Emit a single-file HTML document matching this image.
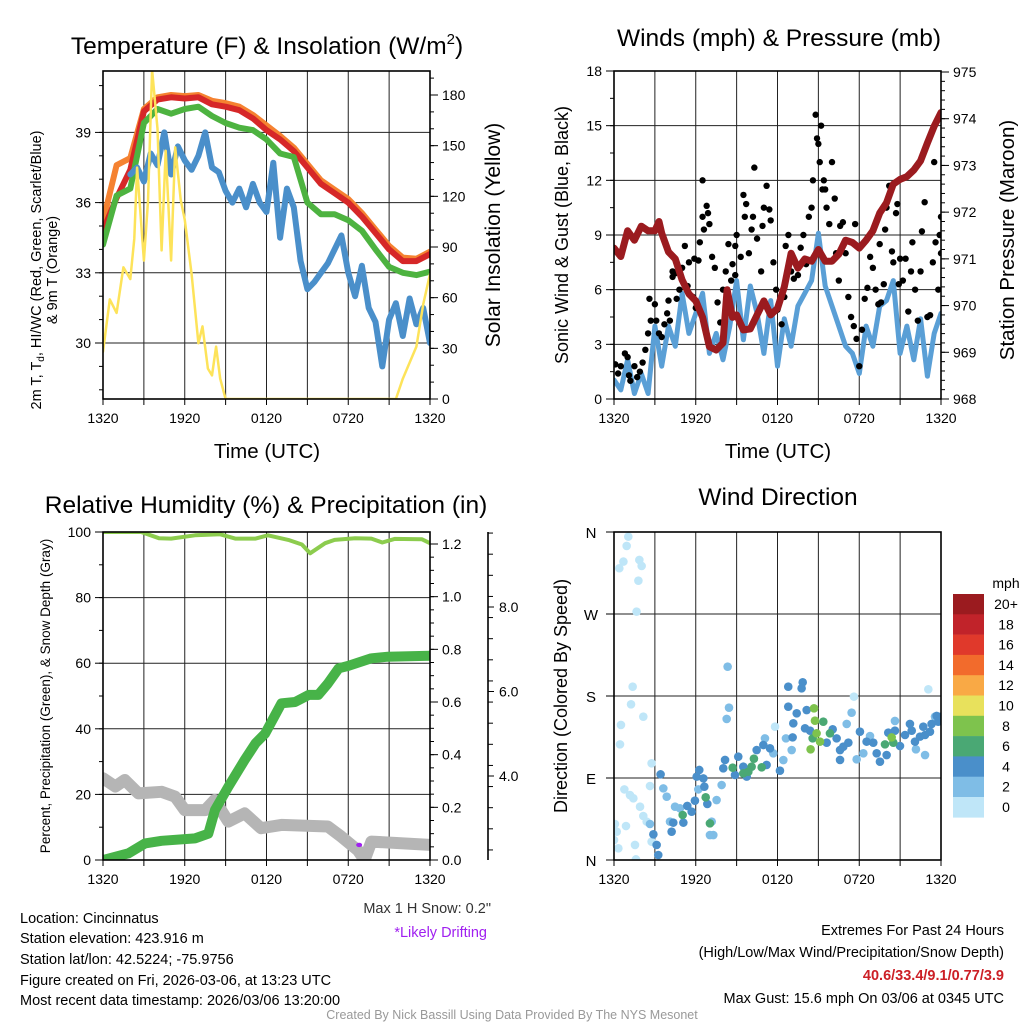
<!DOCTYPE html>
<html><head><meta charset="utf-8"><style>
html,body{margin:0;padding:0;background:#fff;}
svg{display:block;font-family:"Liberation Sans",Arial,sans-serif;}
</style></head><body>
<svg id="c" width="1024" height="1024" viewBox="0 0 1024 1024" xmlns="http://www.w3.org/2000/svg">
<rect x="0" y="0" width="1024" height="1024" fill="#fff"/>
<g font-size="24.5" text-anchor="middle" fill="#000">
<text x="267" y="54">Temperature (F) &amp; Insolation (W/m<tspan font-size="15" dy="-10">2</tspan><tspan dy="10">)</tspan></text>
<text x="779" y="46">Winds (mph) &amp; Pressure (mb)</text>
<text x="266" y="513">Relative Humidity (%) &amp; Precipitation (in)</text>
<text x="778" y="505">Wind Direction</text>
</g>
<g font-size="20.5" text-anchor="middle">
<text x="267" y="458">Time (UTC)</text>
<text x="778" y="458">Time (UTC)</text>
<text transform="translate(500,235) rotate(-90)" font-size="21">Solar Insolation (Yellow)</text>
<text transform="translate(568,235) rotate(-90)" font-size="18">Sonic Wind &amp; Gust (Blue, Black)</text>
<text transform="translate(1014,240) rotate(-90)">Station Pressure (Maroon)</text>
<text transform="translate(567,696) rotate(-90)" font-size="18">Direction (Colored By Speed)</text>
</g>
<g font-size="14.5" text-anchor="middle">
<text transform="translate(41,270) rotate(-90)">2m T, T<tspan font-size="10" dy="3">d</tspan><tspan dy="-3">, HI/WC (Red, Green, Scarlet/Blue)</tspan></text>
<text transform="translate(57,270) rotate(-90)">&amp; 9m T (Orange)</text>
<text transform="translate(50,696) rotate(-90)" font-size="13.5">Percent, Precipitation (Green), &amp; Snow Depth (Gray)</text>
</g>
<g font-size="14.5" fill="#000">
<text x="20" y="923">Location: Cincinnatus</text>
<text x="20" y="943">Station elevation: 423.916 m</text>
<text x="20" y="964">Station lat/lon: 42.5224; -75.9756</text>
<text x="20" y="985">Figure created on Fri, 2026-03-06, at 13:23 UTC</text>
<text x="20" y="1005">Most recent data timestamp: 2026/03/06 13:20:00</text>
<text x="491" y="913" text-anchor="end" fill="#333">Max 1 H Snow: 0.2"</text>
<text x="487" y="937" text-anchor="end" fill="#a020f0">*Likely Drifting</text>
<text x="1004" y="935" text-anchor="end">Extremes For Past 24 Hours</text>
<text x="1004" y="957" text-anchor="end">(High/Low/Max Wind/Precipitation/Snow Depth)</text>
<text x="1004" y="980" text-anchor="end" fill="#cc1f26" font-weight="bold">40.6/33.4/9.1/0.77/3.9</text>
<text x="1004" y="1003" text-anchor="end">Max Gust: 15.6 mph On 03/06 at 0345 UTC</text>
<text x="512" y="1019" text-anchor="middle" font-size="12.5" fill="#999">Created By Nick Bassill Using Data Provided By The NYS Mesonet</text>
</g>
</svg>
<script>
// ---------- data: panel 1 temperature (F), hourly ----------
const tempHours = [0,1,2,3,4,5,6,7,8,9,10,11,12,13,14,15,16,17,18,19,20,21,22,23,24];
const redT = [34.8,36.2,37.4,39.9,40.4,40.5,40.45,40.5,40.2,40.1,39.95,39.6,39.1,38.7,38.2,37.5,36.8,36.4,36.0,35.4,34.7,34.0,33.5,33.5,33.8];
const orangeT = [35.2,37.6,37.9,40.0,40.5,40.6,40.55,40.6,40.35,40.25,40.1,39.75,39.3,38.85,38.35,37.65,36.95,36.55,36.15,35.55,34.85,34.15,33.65,33.6,33.9];
const greenT = [34.2,36.3,36.6,39.4,40.0,39.8,40.0,40.1,39.7,39.4,39.2,39.1,38.7,38.1,37.95,36.0,35.5,35.5,35.25,34.8,34.0,33.25,33.0,32.9,33.05];
const blueHours = [2,2.5,3,3.5,4,4.5,5,5.5,6,6.5,7,7.5,8,8.5,9,9.5,10,10.5,11,11.5,12,12.5,13,13.5,14,14.5,15,15.5,16,16.5,17,17.5,18,18.5,19,19.5,20,20.5,21,21.5,22,22.5,23,23.5,24];
const blueT = [37.2,37.5,36.9,38.1,37.6,39.0,37.2,38.4,37.8,37.4,38.0,39.0,37.5,37.3,36.5,36.0,36.6,35.8,36.8,36.0,35.6,37.7,34.5,36.6,35.8,33.5,32.3,32.6,33.0,33.4,34.0,34.6,33.0,32.0,33.3,31.5,30.9,29.0,31.0,31.7,30.3,31.9,30.8,31.5,30.0];
const solarHours = [0,0.5,1,1.5,2,2.3,2.5,3,3.3,3.6,4,4.3,4.6,5,5.3,5.7,6,6.5,7,7.3,7.7,8,8.3,8.6,9,21.5,22,23,23.5,24];
const solarW = [28,59,51,78,71,95,137,82,117,195,160,88,147,82,149,118,106,74,33,43,18,14,31,12,0,0,12,31,56,74];
// ---------- panel 2 winds & pressure ----------
const windHours = [0,0.5,1,1.5,2,2.5,3,3.5,4,4.5,5,5.5,6,6.5,7,7.5,8,8.5,9,9.5,10,10.5,11,11.5,12,12.5,13,13.5,14,14.5,15,15.5,16,16.5,17,17.5,18,18.5,19,19.5,20,20.5,21,21.5,22,22.5,23,23.5,24];
const windMph = [1.05,0.5,2.15,0.3,1.4,0.3,4.0,1.8,4.0,2.9,5.8,3.6,4.7,5.8,2.5,3.6,2.15,4.0,6.5,3.25,6.2,4.7,2.5,5.4,1.8,4.4,2.9,5.1,5.8,6.5,9.1,6.2,5.1,4.0,2.9,2.5,1.4,4.0,2.9,5.1,5.4,6.5,2.5,4.0,2.15,4.4,1.25,3.6,4.7];
const presHours = [0,0.5,1,1.5,2,2.5,3,3.3,3.5,4,4.5,5,5.5,6,6.5,7,7.5,8,8.3,8.7,9,9.5,10,10.5,11,11.5,12,12.5,13,13.5,14,14.5,15,15.5,16,16.5,17,17.5,18,18.5,19,19.5,20,20.5,21,21.5,22,22.5,23,23.5,24];
const presMb = [971.23,971.05,971.6,971.4,971.7,971.6,971.6,971.8,971.55,971.15,971.0,970.55,970.25,970.1,969.75,969.12,969.05,969.2,970.34,969.75,969.8,969.48,969.5,969.8,970.1,969.8,969.94,970.4,971.12,970.8,971.0,970.95,971.2,970.95,970.95,971.1,971.4,971.35,971.23,971.4,971.6,971.98,972.2,972.6,972.7,972.76,972.9,973.1,973.48,973.84,974.13];
const gustHours = [0.1,0.3,0.5,0.8,1.0,1.1,1.2,1.5,1.7,1.9,2.1,2.3,2.5,2.7,2.6,3.0,3.1,3.3,3.5,3.7,3.9,4.1,4.0,4.3,4.5,4.6,4.8,5.0,5.2,5.5,5.4,5.8,6.0,6.2,6.3,6.5,6.6,6.5,6.8,6.9,7.0,7.2,7.4,7.6,7.8,8.0,8.2,8.4,8.6,8.7,8.9,9.0,9.3,9.5,9.6,9.7,9.9,10.1,10.2,10.3,10.5,10.8,10.9,11.0,11.2,11.4,11.5,11.7,11.9,12.0,12.3,12.5,12.6,12.8,13.0,13.2,13.5,13.7,13.9,14.1,14.3,14.5,14.6,14.8,14.9,15.0,15.1,15.2,15.3,15.4,15.5,15.6,15.8,16.0,16.2,16.3,16.5,16.6,16.8,17.0,17.2,17.4,17.6,17.8,18.0,18.2,18.4,18.6,18.8,19.0,19.2,19.4,19.6,19.8,19.9,20.0,20.2,20.4,20.5,20.7,20.8,20.9,21.0,21.2,21.4,21.6,21.8,21.9,22.1,22.3,22.5,22.6,22.8,23.0,23.2,23.4,23.6,23.8,23.9,24.0,24.0,23.5,19.5,17.7,8.9,5.9,4.3];
const gustMph = [1.9,1.4,1.8,2.5,2.3,1.3,1.0,1.8,1.2,1.5,2.0,2.7,3.6,4.3,5.5,5.2,4.3,3.6,3.4,4.1,4.7,4.3,5.4,6.7,6.9,5.5,6.0,7.2,8.4,7.5,6.2,5.6,5.0,7.6,8.6,10.0,9.3,12.0,10.6,10.2,9.6,7.8,7.2,5.3,4.2,6.0,7.0,8.5,6.5,7.4,6.8,9.0,7.8,11.2,10.0,10.7,8.0,9.3,10.0,12.7,8.8,7.0,9.5,10.5,11.7,10.4,9.8,7.5,6.0,4.9,4.1,5.6,8.4,9.0,7.0,6.6,6.8,8.3,9.0,7.4,10.0,10.5,12.0,15.6,14.3,14.0,13.0,15.0,11.5,12.0,11.5,10.5,9.6,13.0,11.0,8.0,6.5,9.5,9.7,8.0,5.6,4.5,4.0,3.3,1.8,3.8,5.5,6.1,7.8,7.2,6.0,5.2,5.3,6.3,9.3,10.5,11.7,8.1,7.5,10.2,10.7,6.3,7.7,6.5,7.7,4.8,7.0,8.6,6.0,4.3,7.0,9.2,10.8,4.5,4.6,7.5,8.6,6.0,9.0,8.0,10.0,13.0,8.5,9.6,8.4,7.7,7.0];
// ---------- panel 3 humidity, precipitation, snow ----------
const rhHours = [0,2.8,4.1,5.0,6.75,8.6,9.7,11.2,12.1,13.6,14.6,15.2,16.3,17.0,18.5,19.7,20.5,21.4,23.4,24];
const rhPct = [100,100,98.1,98,99,99.3,98,98,99,97.6,96.2,93.5,96.6,97.6,98.1,98,96.8,97.9,97.8,96.6];
const precipHours = [0,1.86,3.08,4.3,6.75,7.73,8.22,9.2,10.4,11.2,11.9,13.1,14.1,15.1,15.8,16.5,17.3,18.0,19.7,20.9,24];
const precipIn = [0,0.025,0.063,0.073,0.082,0.10,0.19,0.278,0.38,0.443,0.48,0.595,0.60,0.627,0.627,0.67,0.728,0.737,0.766,0.772,0.776];
const snowHours = [0,0.9,1.6,2.6,4.3,5.3,6.0,7.5,8.2,9.2,10.4,11.6,13.1,16.5,17.5,18.7,19.2,19.7,24];
const snowPct = [24.9,22.4,24.4,20.3,20.8,19.3,15.2,15.2,18.3,11.7,14.2,9.7,10.7,10.2,7.1,3.0,0,5.6,4.6];
const driftHour = [18.8];
const driftPct = [4.6];
// ---------- panel 4 wind direction, grouped by speed bin ----------
const dirCalmHours = [1.05,0.93,0.69,0.39,1.86,2.03,1.79,1.66,1.37,1.25,2.15,0.51,0.44,2.76,0.76,1.17,1.42,1.91,2.15,2.40,2.64,0.07,0.20,0.0,0.88,0.32,1.54,1.61,2.76,11.82,23.07,17.61];
const dirCalmDeg = [354.9,344.7,327.5,320.2,329.3,322.7,306.6,272.6,190.2,170.9,157.3,148.2,126.9,106.1,77.5,71.3,67.7,58.5,48.3,42.1,81.2,39.5,31.1,21.9,37.3,12.8,16.5,0.7,20.1,146.3,187.3,179.3];
const dir2Hours = [8.34,8.44,8.27,3.62,3.87,4.48,4.84,4.11,7.17,7.29,7.53,7.90,6.19,13.04,12.62,11.08,11.69,12.43,17.44,17.08,17.81,18.30,18.79,20.62,22.83,22.16,23.56,2.64,7.04];
const dir2Deg = [212.2,167.2,154.8,78.6,69.5,58.5,56.7,42.1,42.1,27.4,65.8,82.3,77.5,120.7,133.5,133.5,117.1,109.7,161.7,149.3,110.5,117.1,136.1,152.6,115.2,121.5,157.3,39.5,27.4];
const dir4Hours = [3.25,3.13,2.89,3.42,4.23,4.35,5.09,5.38,5.70,5.94,6.26,6.07,6.56,6.63,6.85,8.02,8.15,8.88,9.12,9.49,9.74,10.47,10.96,11.45,12.18,11.20,12.79,13.85,13.77,12.79,13.16,13.11,13.41,14.14,14.02,14.39,15.61,16.05,16.34,16.59,16.83,16.59,17.20,18.05,18.54,19.03,19.28,19.52,20.01,20.13,20.62,20.99,21.36,21.72,21.85,22.09,22.46,22.70,22.83,23.31,23.68,24.0,23.80,23.19];
const dir4Deg = [5.5,16.5,28.2,94.0,31.1,41.0,41.0,59.3,53.0,65.1,98.8,91.5,89.6,80.5,61.5,100.6,109.8,93.3,113.4,102.4,91.5,120.7,126.2,122.6,98.0,104.3,190.2,195.0,188.4,168.3,150.0,134.6,161.0,164.6,144.5,141.9,128.8,143.4,133.5,120.7,124.4,109.8,128.8,140.8,129.9,128.8,117.1,107.9,115.2,139.7,141.9,125.1,137.2,149.3,141.9,129.9,135.4,146.3,137.2,149.3,158.1,157.3,151.8,140.8];
const dir6Hours = [5.04,7.04,6.73,8.71,9.49,9.86,10.27,10.84,10.10,15.36,15.85,19.89,20.50,14.58];
const dir6Deg = [49.4,40.2,68.8,101.3,95.1,96.9,111.2,101.7,102.4,151.8,139.0,126.9,128.8,133.5];
const dir8Hours = [14.68,14.75,14.87,15.12,14.43,20.38];
const dir8Deg = [166.5,152.9,139.0,129.9,121.5,134.6];
const speedLabels = ["0","2","4","6","8","10","12","14","16","18","20+"];
const speedColors = ["#bfe6f8","#7fbde6","#4a8fca","#4aa874","#7ec34d","#e8e15c","#f9a945","#f26b2c","#e0392b","#c1232a","#9b1b1f"];
const timeTickHours = [0,6,12,18,24];
const timeTickLabels = ["1320","1920","0120","0720","1320"];
const tempTicks = [30,33,36,39];
const solarTicks = [0,30,60,90,120,150,180];
const windTicks = [0,3,6,9,12,15,18];
const presTicks = [968,969,970,971,972,973,974,975];
const pctTicks = [0,20,40,60,80,100];
const precipTicks = [0,0.2,0.4,0.6,0.8,1.0,1.2];
const snowAxisTicks = [4,6,8];
const dirTicks = [0,90,180,270,360];
const dirLabels = ["N","E","S","W","N"];

const NS = "http://www.w3.org/2000/svg";
const svg = document.getElementById("c");
function mk(tag, attrs, name, parent) {
  const el = document.createElementNS(NS, tag);
  for (const k in attrs) el.setAttribute(k, attrs[k]);
  
  
  (parent || svg).appendChild(el);
  return el;
}
function lin(d0, d1, r0, r1) { return v => r0 + (v - d0) * (r1 - r0) / (d1 - d0); }
function linePath(xs, ys, fx, fy) {
  return xs.map((h, i) => (i ? "L" : "M") + fx(h).toFixed(1) + "," + fy(ys[i]).toFixed(1)).join(" ");
}
function panel(x0, x1, y0, y1, name) {
  const g = mk("g", {}, name);
  const clip = mk("clipPath", {id: name + "-clip"}, name + "-clip", svg);
  mk("rect", {x: x0, y: y0, width: x1 - x0, height: y1 - y0}, name + "-clip-rect", clip);
  return g;
}
function frame(g, x0, x1, y0, y1, fx, hGrid, fy, name) {
  for (let h = 3; h < 24; h += 3) mk("line", {x1: fx(h), x2: fx(h), y1: y0, y2: y1, stroke: "#222", "stroke-width": 1}, name + "-vgrid", g);
  hGrid.forEach(v => mk("line", {x1: x0, x2: x1, y1: fy(v), y2: fy(v), stroke: "#222", "stroke-width": 1}, name + "-hgrid", g));
}
function box(g, x0, x1, y0, y1, name) {
  mk("rect", {x: x0, y: y0, width: x1 - x0, height: y1 - y0, fill: "none", stroke: "#000", "stroke-width": 1.6}, name + "-frame", g);
}
function timeAxis(g, fx, y1, name) {
  for (let h = 0; h <= 24; h += 3) mk("line", {x1: fx(h), x2: fx(h), y1: y1, y2: y1 + 6, stroke: "#000", "stroke-width": 1}, name + "-x-tick", g);
  timeTickHours.forEach((h, i) => {
    const t = mk("text", {x: fx(h), y: y1 + 24, "text-anchor": "middle", "font-size": 14}, name + "-x-tick-label", g);
    t.textContent = timeTickLabels[i];
  });
}
function yAxis(g, x, side, fy, ticks, minors, fmt, name, labelOff) {
  const dir = side === "left" ? -1 : 1;
  minors.forEach(v => mk("line", {x1: x, x2: x + dir * 4, y1: fy(v), y2: fy(v), stroke: "#000", "stroke-width": 1}, name + "-minor-tick", g));
  ticks.forEach(v => {
    mk("line", {x1: x, x2: x + dir * 8, y1: fy(v), y2: fy(v), stroke: "#000", "stroke-width": 1}, name + "-tick", g);
    const t = mk("text", {x: x + dir * (labelOff || 12), y: fy(v) + 5, "text-anchor": side === "left" ? "end" : "start", "font-size": 14}, name + "-tick-label", g);
    t.textContent = fmt(v);
  });
}
function range(a, b, s) { const r = []; for (let v = a; v <= b + 1e-9; v += s) r.push(+v.toFixed(4)); return r; }

// ===== Panel 1 =====
{
  const x0 = 103, x1 = 430, y0 = 71, y1 = 399;
  const fx = lin(0, 24, x0, x1);
  const fT = lin(30, 39, 343, 132.4);
  const fS = lin(0, 180, 399, 95);
  const g = panel(x0, x1, y0, y1, "temperature-panel");
  frame(g, x0, x1, y0, y1, fx, tempTicks, fT, "temperature");
  const d = mk("g", {"clip-path": "url(#temperature-panel-clip)", fill: "none", "stroke-linejoin": "round", "stroke-linecap": "round"}, "temperature-series", g);
  mk("path", {d: linePath(tempHours, orangeT, fx, fT), stroke: "#f58231", "stroke-width": 6}, "orange-9m-temp-line", d);
  mk("path", {d: linePath(tempHours, redT, fx, fT), stroke: "#d62728", "stroke-width": 6}, "red-2m-temp-line", d);
  mk("path", {d: linePath(tempHours, greenT, fx, fT), stroke: "#4db340", "stroke-width": 6}, "green-dewpoint-line", d);
  mk("path", {d: linePath(blueHours, blueT, fx, fT), stroke: "#4a8fca", "stroke-width": 6}, "blue-windchill-line", d);
  mk("path", {d: linePath(solarHours, solarW, fx, fS), stroke: "#fde35a", "stroke-width": 2.5}, "yellow-insolation-line", d);
  box(g, x0, x1, y0, y1, "temperature");
  timeAxis(g, fx, y1, "temperature");
  yAxis(g, x0, "left", fT, tempTicks, range(28, 41, 1), v => String(v), "temperature-left");
  yAxis(g, x1, "right", fS, solarTicks, range(0, 190, 10), v => String(v), "insolation-right");
}
// ===== Panel 2 =====
{
  const x0 = 614, x1 = 941, y0 = 71, y1 = 399;
  const fx = lin(0, 24, x0, x1);
  const fW = lin(0, 18, 399, 71);
  const fP = lin(968, 975, 399, 72);
  const g = panel(x0, x1, y0, y1, "winds-panel");
  frame(g, x0, x1, y0, y1, fx, windTicks.slice(1, 6), fW, "winds");
  const d = mk("g", {"clip-path": "url(#winds-panel-clip)", fill: "none", "stroke-linejoin": "round", "stroke-linecap": "round"}, "winds-series", g);
  mk("path", {d: linePath(windHours, windMph, fx, fW), stroke: "#5a9fd6", "stroke-width": 5}, "sonic-wind-line", d);
  const gd = mk("g", {fill: "#000"}, "gust-points", d);
  gustHours.forEach((h, i) => {
    mk("circle", {cx: fx(h), cy: fW(gustMph[i]), r: 3.2}, "gust-point", gd);
  });
  mk("path", {d: linePath(presHours, presMb, fx, fP), stroke: "#9b1b1f", "stroke-width": 7}, "pressure-line", d);
  box(g, x0, x1, y0, y1, "winds");
  timeAxis(g, fx, y1, "winds");
  yAxis(g, x0, "left", fW, windTicks, range(0, 18, 1.5), v => String(v), "wind-left");
  yAxis(g, x1, "right", fP, presTicks, range(968, 975, 0.2), v => String(v), "pressure-right");
}
// ===== Panel 3 =====
{
  const x0 = 103, x1 = 430, y0 = 532, y1 = 860;
  const fx = lin(0, 24, x0, x1);
  const fPct = lin(0, 100, 860, 532);
  const fIn = lin(0, 1.2, 860, 544);
  const fSnowAx = lin(4, 8, 776, 607);
  const g = panel(x0, x1, y0, y1, "humidity-panel");
  frame(g, x0, x1, y0, y1, fx, [20, 40, 60, 80], fPct, "humidity");
  const d = mk("g", {"clip-path": "url(#humidity-panel-clip)", fill: "none", "stroke-linejoin": "round", "stroke-linecap": "round"}, "humidity-series", g);
  mk("path", {d: linePath(snowHours, snowPct, fx, fPct), stroke: "#b5b5b5", "stroke-width": 12}, "snow-depth-line", d);
  mk("path", {d: linePath(precipHours, precipIn, fx, fIn), stroke: "#47b348", "stroke-width": 10}, "precipitation-line", d);
  mk("path", {d: linePath(rhHours, rhPct, fx, fPct), stroke: "#8ccc4e", "stroke-width": 4}, "relative-humidity-line", d);
  driftHour.forEach((h, i) => {
    mk("ellipse", {cx: fx(h), cy: fPct(driftPct[i]), rx: 3, ry: 2.2, fill: "#a020f0"}, "drifting-marker", d);
  });
  box(g, x0, x1, y0, y1, "humidity");
  timeAxis(g, fx, y1, "humidity");
  yAxis(g, x0, "left", fPct, pctTicks, range(0, 100, 10), v => String(v), "percent-left");
  yAxis(g, x1, "right", fIn, precipTicks, range(0, 1.2, 0.05), v => v.toFixed(1), "precip-right");
  mk("line", {x1: 488, x2: 488, y1: y0, y2: y1, stroke: "#000", "stroke-width": 1.6}, "snow-depth-axis-line", g);
  const minorS = range(2.25, 9.75, 0.5).filter(v => fSnowAx(v) > y0 && fSnowAx(v) < y1);
  minorS.forEach(v => mk("line", {x1: 488, x2: 493, y1: fSnowAx(v), y2: fSnowAx(v), stroke: "#000", "stroke-width": 1}, "snow-axis-minor-tick", g));
  snowAxisTicks.forEach(v => {
    mk("line", {x1: 488, x2: 494, y1: fSnowAx(v), y2: fSnowAx(v), stroke: "#000", "stroke-width": 1}, "snow-axis-tick", g);
    const t = mk("text", {x: 499, y: fSnowAx(v) + 5, "text-anchor": "start", "font-size": 14}, "snow-axis-tick-label", g);
    t.textContent = v.toFixed(1);
  });
}
// ===== Panel 4 =====
{
  const x0 = 614, x1 = 941, y0 = 532, y1 = 860;
  const fx = lin(0, 24, x0, x1);
  const fD = lin(0, 360, 860, 532);
  const g = panel(x0, x1, y0, y1, "direction-panel");
  frame(g, x0, x1, y0, y1, fx, [90, 180, 270], fD, "direction");
  const d = mk("g", {"clip-path": "url(#direction-panel-clip)"}, "direction-points", g);
  const groups = [[dirCalmHours, dirCalmDeg, 0], [dir2Hours, dir2Deg, 1], [dir4Hours, dir4Deg, 2], [dir6Hours, dir6Deg, 3], [dir8Hours, dir8Deg, 4]];
  groups.forEach(gr => {
    gr[0].forEach((h, i) => {
      mk("circle", {cx: fx(h), cy: fD(gr[1][i]), r: 4.3, fill: speedColors[gr[2]]}, "direction-point", d);
    });
  });
  box(g, x0, x1, y0, y1, "direction");
  timeAxis(g, fx, y1, "direction");
  dirTicks.forEach((v, i) => {
    mk("line", {x1: x0, x2: x0 - 8, y1: fD(v), y2: fD(v), stroke: "#000", "stroke-width": 1}, "direction-tick", g);
    const t = mk("text", {x: 591, y: fD(v) + 6, "text-anchor": "middle", "font-size": 15}, "direction-tick-label", g);
    t.textContent = dirLabels[i];
  });
  const cb = mk("g", {}, "speed-colorbar", g);
  const t0 = mk("text", {x: 1006, y: 588, "text-anchor": "middle", "font-size": 14}, "colorbar-unit-label", cb);
  t0.textContent = "mph";
  const n = speedColors.length;
  for (let i = 0; i < n; i++) {
    const k = n - 1 - i;
    const y = 594 + i * 20.3;
    mk("rect", {x: 953, y: y, width: 31, height: 20.6, fill: speedColors[k]}, "colorbar-box", cb);
    const t = mk("text", {x: 1006, y: y + 15, "text-anchor": "middle", "font-size": 14}, "colorbar-label", cb);
    t.textContent = speedLabels[k];
  }
}
</script>
</body></html>
